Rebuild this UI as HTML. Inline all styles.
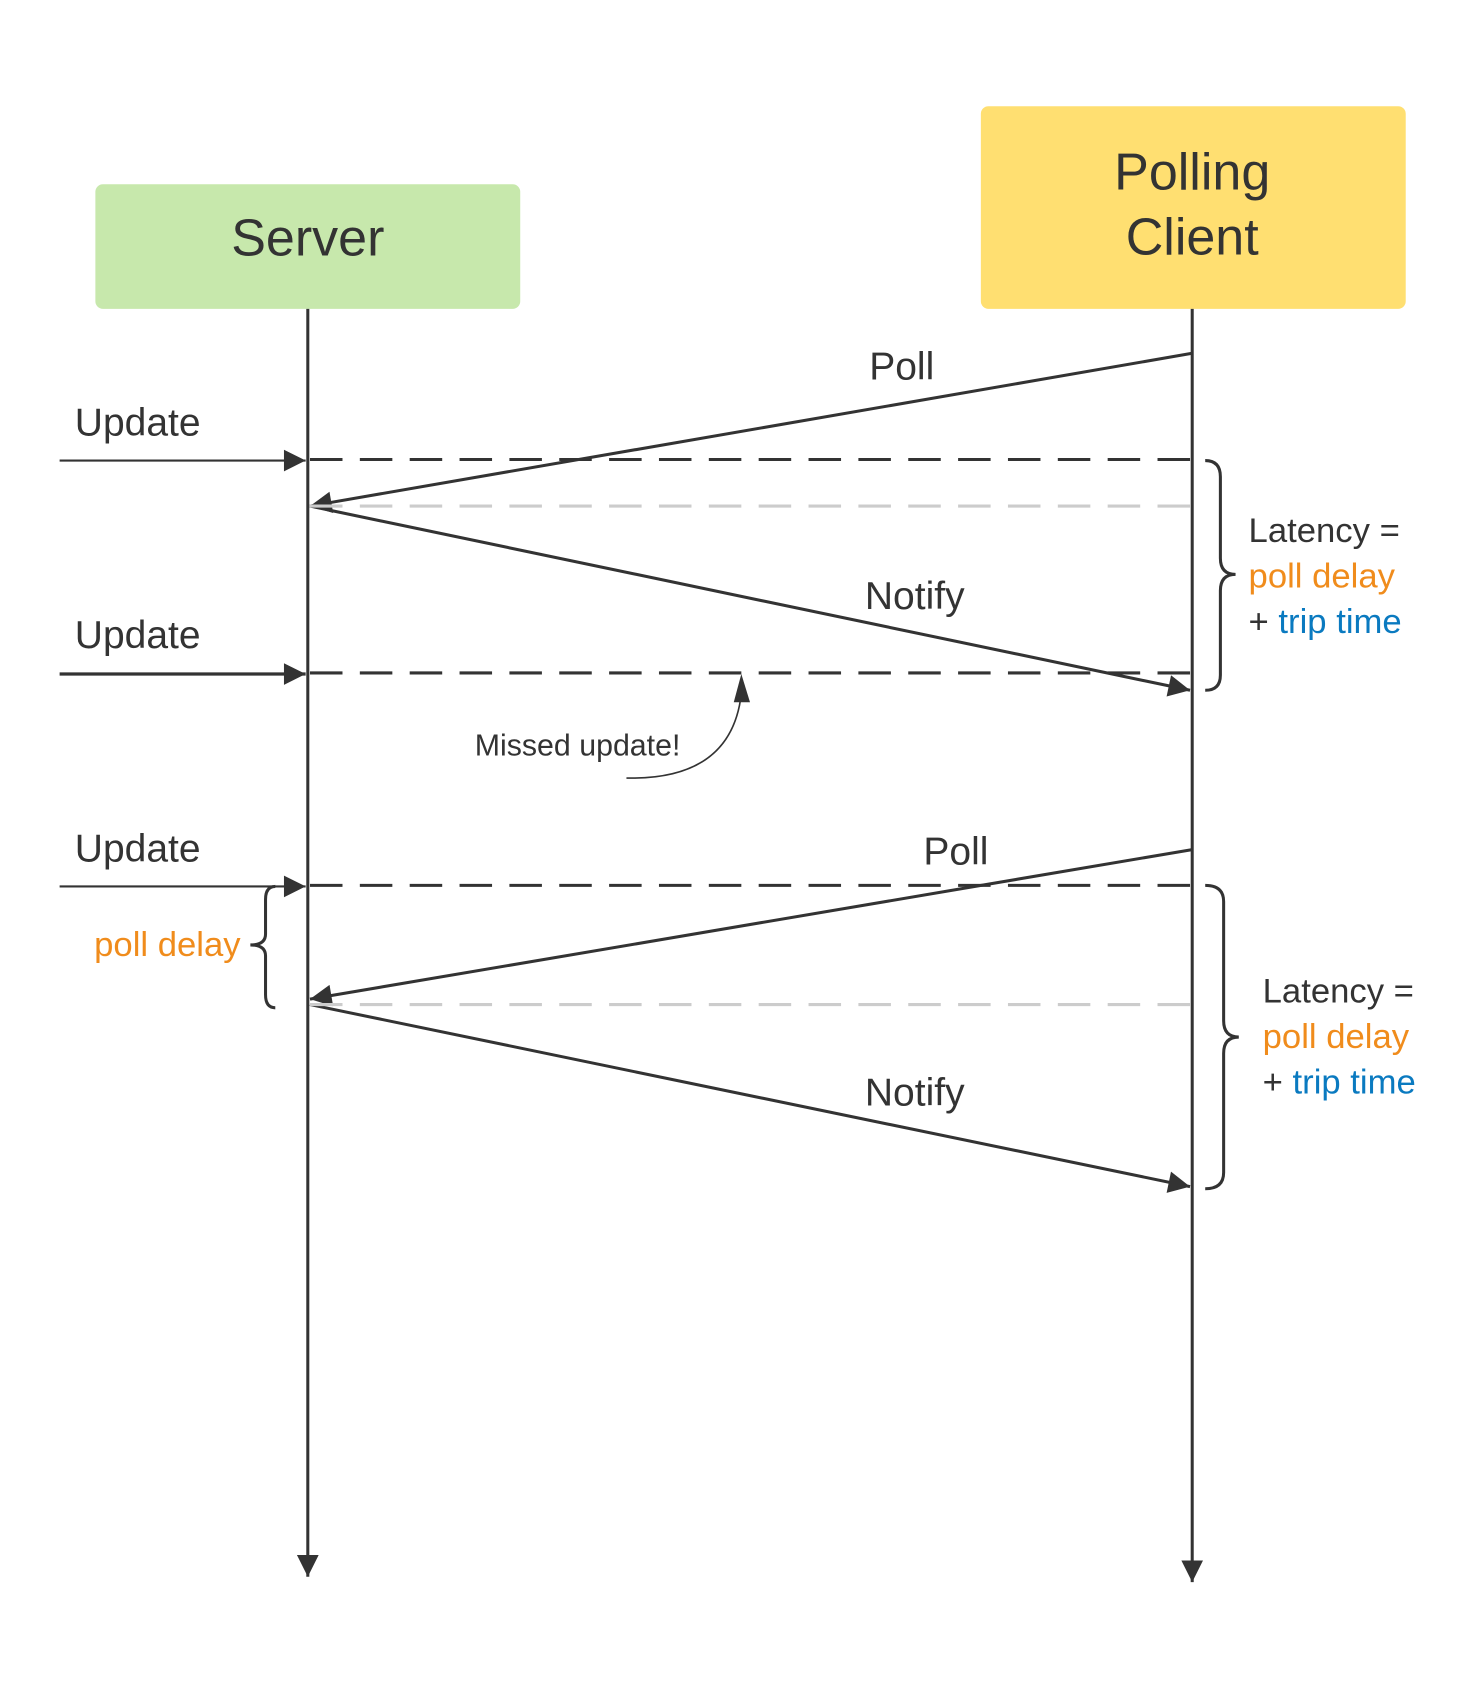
<!DOCTYPE html>
<html><head><meta charset="utf-8"><style>html,body{margin:0;padding:0;background:#fff}svg{display:block}</style></head>
<body>
<svg width="1474" height="1684" viewBox="0 0 1360 1554" preserveAspectRatio="none" xmlns="http://www.w3.org/2000/svg" font-family="Liberation Sans, sans-serif">
<defs>
<marker id="a" viewBox="0 0 10 10" refX="10" refY="5" markerWidth="30" markerHeight="20" markerUnits="userSpaceOnUse" orient="auto"><path d="M0,0 L10,5 L0,10 z" fill="#333"/></marker>
</defs>
<rect x="88" y="170" width="392" height="115" rx="7" fill="#c7e8ac"/>
<text x="284" y="236" font-size="48" fill="#333" text-anchor="middle">Server</text>
<rect x="905" y="98" width="392" height="187" rx="7" fill="#ffdf71"/>
<text x="1100" y="175" font-size="48" fill="#333" text-anchor="middle">Polling</text>
<text x="1100" y="235" font-size="48" fill="#333" text-anchor="middle">Client</text>
<g stroke="#333" stroke-width="2.8" fill="none">
<line x1="284" y1="285" x2="284" y2="1455" marker-end="url(#a)"/>
<line x1="1100" y1="285" x2="1100" y2="1460" marker-end="url(#a)"/>
<line x1="1100" y1="326" x2="286" y2="467" marker-end="url(#a)"/>
<line x1="286" y1="467" x2="1098" y2="637" marker-end="url(#a)"/>
<line x1="1100" y1="784" x2="286" y2="922" marker-end="url(#a)"/>
<line x1="286" y1="927" x2="1098" y2="1095" marker-end="url(#a)"/>
<line x1="55" y1="425" x2="282" y2="425" stroke-width="2" marker-end="url(#a)"/>
<line x1="55" y1="622" x2="282" y2="622" stroke-width="3" marker-end="url(#a)"/>
<line x1="55" y1="818" x2="282" y2="818" stroke-width="2" marker-end="url(#a)"/>
<g stroke-dasharray="30 16">
<line x1="286" y1="424" x2="1100" y2="424"/>
<line x1="286" y1="621" x2="1100" y2="621"/>
<line x1="286" y1="817" x2="1100" y2="817"/>
</g>
<g stroke="#ccc" stroke-dasharray="30 16">
<line x1="286" y1="467" x2="1100" y2="467"/>
<line x1="286" y1="927" x2="1100" y2="927"/>
</g>
<path d="M1112,425 Q1126,425 1126,440 L1126,515 Q1126,530 1140,530 Q1126,530 1126,545 L1126,623 Q1126,637 1112,637"/>
<path d="M1112,817 Q1129,817 1129,832 L1129,942 Q1129,957 1143,957 Q1129,957 1129,972 L1129,1082 Q1129,1097 1112,1097"/>
<path d="M254,818 Q245,818 245,830 L245,862 Q245,872 231,872 Q245,872 245,882 L245,918 Q245,930 254,930"/>
<path d="M578,718 Q675,720 684,640" stroke-width="1.5"/>
</g>
<path d="M684,622 L677,648 L692,648 z" fill="#333"/>
<g font-size="36" fill="#333">
<text x="802" y="350">Poll</text>
<text x="852" y="798">Poll</text>
<text x="798" y="562">Notify</text>
<text x="798" y="1020">Notify</text>
<text x="69" y="402">Update</text>
<text x="69" y="598">Update</text>
<text x="69" y="795">Update</text>
</g>
<text x="438" y="697" font-size="28" fill="#333">Missed update!</text>
<text x="222" y="882" font-size="32" fill="#f08c1c" text-anchor="end">poll delay</text>
<g font-size="32">
<text x="1152" y="500" fill="#333">Latency =</text>
<text x="1152" y="542" fill="#f08c1c">poll delay</text>
<text x="1152" y="584" fill="#333">+ <tspan fill="#0a7ac0">trip time</tspan></text>
<text x="1165" y="925" fill="#333">Latency =</text>
<text x="1165" y="967" fill="#f08c1c">poll delay</text>
<text x="1165" y="1009" fill="#333">+ <tspan fill="#0a7ac0">trip time</tspan></text>
</g>
</svg>
</body></html>
